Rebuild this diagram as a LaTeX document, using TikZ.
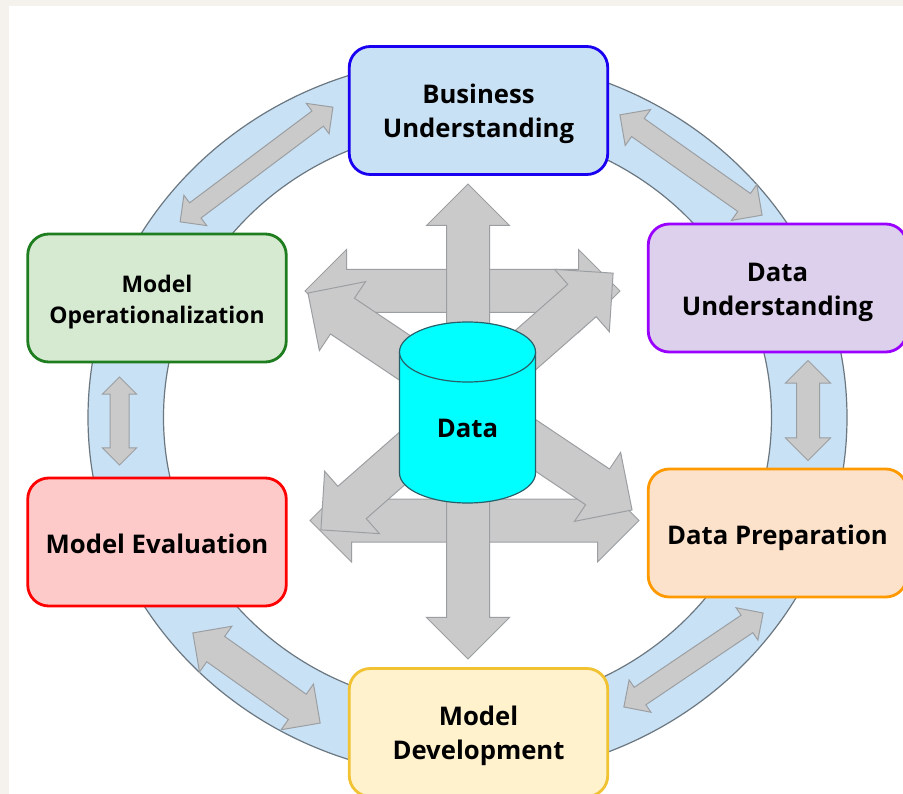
\documentclass[tikz,border=0pt]{standalone}
\usepackage{fontspec}
\setmainfont{Open Sans}
\usetikzlibrary{shapes.arrows}

\definecolor{pagegrey}{HTML}{F5F2EE}
\definecolor{ringblue}{HTML}{C9E1F5}
\definecolor{ringedge}{HTML}{6B7780}
\definecolor{arrowgrey}{HTML}{CACACA}
\definecolor{arrowedge}{HTML}{9C9FA2}
\definecolor{storecyan}{HTML}{00FFFF}
\definecolor{storeedge}{HTML}{28606A}

\tikzset{
    stage/.style={draw, line width=2.8pt, rounded corners=21pt, minimum width=258.5pt, minimum height=128pt,
        inner sep=0pt, align=center, font=\fontsize{25.7}{34}\selectfont\bfseries},
    bigarrow/.style={draw=arrowedge, fill=arrowgrey, line width=1pt, double arrow, inner xsep=0pt, inner ysep=21pt,
        double arrow head extend=20pt},
    smallarrow/.style={draw=arrowedge, fill=arrowgrey, line width=1pt, double arrow, inner xsep=0pt},
}

\begin{document}
\begin{tikzpicture}[x=1pt, y=-1pt]
    \useasboundingbox (0, 0) rectangle (903, 794);
    \fill[pagegrey] (0, 0) rectangle (903, 794);
    \fill[white] (9, 6) rectangle (903, 794);

    % ring behind the stages
    \draw[ringedge, fill=ringblue, even odd rule, line width=1.2pt]
    (467.5, 417.5) ellipse [x radius=379.5pt, y radius=360pt] (467.5, 417.5) ellipse [x radius=304pt, y radius=290pt];

    % arrows on the ring
    \node[smallarrow, inner ysep=9pt, double arrow head extend=9.5pt, minimum height=191pt, rotate=36.9] (opbiz) at (256.5, 164.5) {};
    \node[smallarrow, inner ysep=10.5pt, double arrow head extend=11pt, minimum height=174pt, rotate=-35.2] (bizunder) at (691, 165) {};
    \node[smallarrow, inner ysep=11pt, double arrow head extend=11pt, minimum height=100pt, rotate=90] (underprep) at (808, 410.5) {};
    \node[smallarrow, inner ysep=10pt, double arrow head extend=9pt, minimum height=168pt, rotate=34] (prepdev) at (693.5, 660) {};
    \node[smallarrow, inner ysep=15pt, double arrow head extend=12.5pt, minimum height=156pt, rotate=-35.3] (devevalarrow) at (256.5, 678) {};
    \node[smallarrow, inner ysep=9pt, double arrow head extend=7.5pt, minimum height=88pt, rotate=90] (evalop) at (119.5, 421) {};

    % arrows around the data
    \node[bigarrow, minimum height=315pt] (dataupper) at (462.5, 291) {};
    \node[bigarrow, minimum height=329pt] (datalower) at (474.5, 520.5) {};
    \node[bigarrow, minimum height=390pt, rotate=-33.8] (datafalling) at (470, 401.5) {};
    \node[bigarrow, minimum height=389pt, rotate=41.3] (datarising) at (467, 401.5) {};
    \node[bigarrow, minimum height=475pt, rotate=90] (datastraight) at (468, 421.5) {};

    % stages
    \node[stage, text height=61pt, draw={rgb,255:red,26;green,0;blue,240}, fill=ringblue] (business) at (478.5, 110.5) {Business\\Understanding};
    \node[stage, text height=61pt, draw={rgb,255:red,153;green,0;blue,255}, fill={rgb,255:red,221;green,208;blue,236}] (understanding) at (777.5, 288) {Data\\Understanding};
    \node[stage, text height=29.5pt, text depth=6pt, draw={rgb,255:red,255;green,153;blue,0}, fill={rgb,255:red,252;green,226;blue,203}] (preparation) at (777.5, 533) {Data Preparation};
    \node[stage, text height=60.5pt, draw={rgb,255:red,241;green,194;blue,50}, fill={rgb,255:red,255;green,242;blue,204}] (development) at (478.5, 732.5) {Model\\Development};
    \node[stage, text height=23.5pt, text depth=0pt, draw={rgb,255:red,255;green,0;blue,0}, fill={rgb,255:red,253;green,201;blue,201}] (evaluation) at (157, 542) {Model Evaluation};
    \node[stage, text height=56.5pt, draw={rgb,255:red,30;green,125;blue,30}, fill={rgb,255:red,214;green,233;blue,209}, font=\fontsize{22.9}{31}\selectfont\bfseries] (operational) at (157, 298) {Model\\Operationalization};

    % data store
    \draw[storeedge, fill=storecyan, line width=1.2pt]
    (399.5, 352) -- (399.5, 473) arc [start angle=180, end angle=360, x radius=68pt, y radius=30pt] -- (535.5, 352);
    \draw[storeedge, fill=storecyan, line width=1.2pt] (467.5, 352) ellipse [x radius=68pt, y radius=30pt];
    \node[font=\fontsize{25.7}{34}\selectfont\bfseries] (datalabel) at (467.5, 428.5) {Data};
\end{tikzpicture}
\end{document}
